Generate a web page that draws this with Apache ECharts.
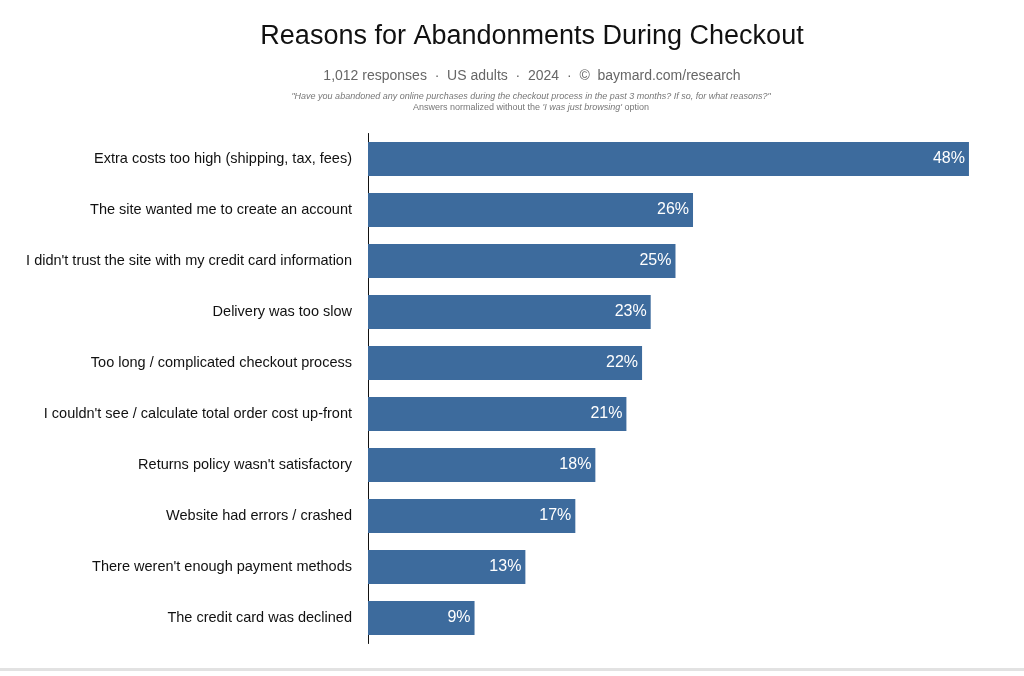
<!DOCTYPE html>
<html>
<head>
<meta charset="utf-8">
<script src="https://cdn.jsdelivr.net/npm/echarts@6/dist/echarts.min.js"></script>
<style>
  html, body { margin: 0; padding: 0; background: #fff; }
  #chart { width: 1024px; height: 676px; }
</style>
</head>
<body>
<div id="chart"></div>
<script>
// reasons, top to bottom
const reasons = [
    'Extra costs too high (shipping, tax, fees)',
    'The site wanted me to create an account',
    "I didn't trust the site with my credit card information",
    'Delivery was too slow',
    'Too long / complicated checkout process',
    "I couldn't see / calculate total order cost up-front",
    "Returns policy wasn't satisfactory",
    'Website had errors / crashed',
    "There weren't enough payment methods",
    'The credit card was declined'
];

// share of respondents (%)
const shares = [48.0, 25.96, 24.56, 22.58, 21.89, 20.64, 18.16, 16.56, 12.57, 8.51];

const titleText = 'Reasons for Abandonments During Checkout';
const subtitleText = '1,012 responses  \u00b7  US adults  \u00b7  2024  \u00b7  \u00a9  baymard.com/research';
const questionText = '"Have you abandoned any online purchases during the checkout process in the past 3 months? If so, for what reasons?"';

const chart = echarts.init(document.getElementById('chart'));
const font = '"Liberation Sans", Arial, Helvetica, sans-serif';

const options = {
    animation: false,
    textStyle: { fontFamily: font },
    title: [
        {
            text: titleText,
            left: 527, top: 18, textAlign: 'center',
            textStyle: { fontSize: 27, fontWeight: 'normal', color: '#111', fontFamily: font }
        },
        {
            text: subtitleText,
            left: 527, top: 64, textAlign: 'center',
            textStyle: { fontSize: 14, fontWeight: 'normal', color: '#666', fontFamily: font }
        },
        {
            text: '{i|' + questionText + '}\n{n|Answers normalized without the }{i|\'I was just browsing\'}{n| option}',
            left: 526, top: 86, textAlign: 'center',
            textStyle: {
                fontFamily: font,
                fontWeight: 'normal',
                lineHeight: 11,
                rich: {
                    i: { fontSize: 9, fontStyle: 'italic', fontWeight: 'normal', color: '#777', fontFamily: font, lineHeight: 11 },
                    n: { fontSize: 9, fontWeight: 'normal', color: '#777', fontFamily: font, lineHeight: 11 }
                }
            }
        }
    ],
    grid: {
        left: 368,
        right: 30,
        top: 133.5,
        bottom: 32.5,
        containLabel: false
    },
    xAxis: {
        type: 'value',
        min: 0,
        max: 50,
        show: false
    },
    yAxis: {
        type: 'category',
        inverse: true,
        data: reasons,
        axisLine: { show: true, lineStyle: { color: '#111', width: 1 } },
        axisTick: { show: false },
        axisLabel: { color: '#111', fontSize: 14.5, margin: 16, fontFamily: font }
    },
    series: [{
        type: 'bar',
        data: shares,
        barWidth: 34,
        itemStyle: { color: '#3d6b9d' },
        label: {
            show: true,
            position: 'insideRight',
            distance: 4,
            color: '#fff',
            fontSize: 16,
            fontFamily: font,
            formatter: p => Math.round(p.value) + '%'
        }
    }],
    graphic: [{
        type: 'rect',
        shape: { x: 0, y: 668, width: 1024, height: 3 },
        style: { fill: '#e2e2e2' },
        silent: true
    }]
};

chart.setOption(options);
</script>
</body>
</html>
